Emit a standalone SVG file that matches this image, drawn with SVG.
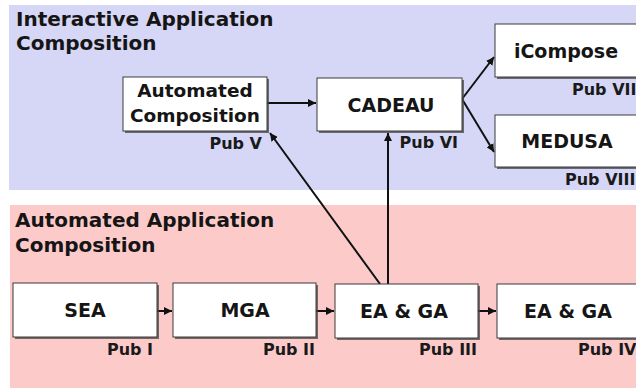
<svg xmlns="http://www.w3.org/2000/svg" width="636" height="390" viewBox="0 0 636 390">
<style>
.title{font-family:"DejaVu Sans",sans-serif;font-weight:bold;font-size:20px;fill:#151515}
.lbl{font-family:"DejaVu Sans",sans-serif;font-weight:bold;font-size:19px;fill:#151515;text-anchor:middle}
.pub{font-family:"DejaVu Sans",sans-serif;font-weight:bold;font-size:16px;fill:#1a1a1a}
.box{fill:#ffffff;stroke:#3a3a3a;stroke-width:1}
.sh{fill:#444;opacity:0.75}
.con{stroke:#111;stroke-width:2;fill:none}
</style>
<defs>
<marker id="ah" viewBox="0 0 10 10" refX="10" refY="5" markerWidth="4" markerHeight="4" orient="auto" markerUnits="strokeWidth">
<path d="M0,0 L10,5 L0,10 z" fill="#111"/>
</marker>
</defs>
<rect width="636" height="390" fill="#ffffff"/>
<rect x="9" y="5" width="627" height="185" fill="#d6d6f6"/>
<rect x="10" y="205" width="626" height="183" fill="#fdcaca"/>
<text class="title" x="16" y="26">Interactive Application</text>
<text class="title" x="16" y="50">Composition</text>
<text class="title" x="15" y="227">Automated Application</text>
<text class="title" x="15" y="252">Composition</text>

<g id="connectors">
<line class="con" x1="267" y1="103" x2="316" y2="103" marker-end="url(#ah)"/>
<line class="con" x1="462" y1="99" x2="494" y2="57" marker-end="url(#ah)"/>
<line class="con" x1="462" y1="99" x2="494" y2="152" marker-end="url(#ah)"/>
<line class="con" x1="157" y1="311" x2="172" y2="311" marker-end="url(#ah)"/>
<line class="con" x1="316" y1="311" x2="334" y2="311" marker-end="url(#ah)"/>
<line class="con" x1="478" y1="311" x2="496" y2="311" marker-end="url(#ah)"/>
<line class="con" x1="388" y1="284" x2="388" y2="133" marker-end="url(#ah)"/>
<line class="con" x1="380" y1="284" x2="270" y2="133" marker-end="url(#ah)"/>
</g>

<g id="automated-composition">
<rect class="sh" x="125" y="79" width="144" height="54"/>
<rect class="box" x="123" y="77" width="144" height="54"/>
<text class="lbl" x="195" y="97" style="font-size:18.5px">Automated</text>
<text class="lbl" x="195" y="122" style="font-size:18.5px">Composition</text>
<text class="pub" x="262" y="149" text-anchor="end">Pub V</text>
</g>
<g id="cadeau">
<rect class="sh" x="319" y="80" width="145" height="53"/>
<rect class="box" x="317" y="78" width="145" height="53"/>
<text class="lbl" x="391" y="112">CADEAU</text>
<text class="pub" x="458" y="148" text-anchor="end">Pub VI</text>
</g>
<g id="icompose">
<rect class="sh" x="497" y="26" width="150" height="53"/>
<rect class="box" x="495" y="24" width="150" height="53"/>
<text class="lbl" x="566" y="58">iCompose</text>
<text class="pub" x="572" y="95">Pub VII</text>
</g>
<g id="medusa">
<rect class="sh" x="497" y="117" width="150" height="52"/>
<rect class="box" x="495" y="115" width="150" height="52"/>
<text class="lbl" x="567" y="148">MEDUSA</text>
<text class="pub" x="565" y="185">Pub VIII</text>
</g>
<g id="sea">
<rect class="sh" x="15" y="285" width="144" height="54"/>
<rect class="box" x="13" y="283" width="144" height="54"/>
<text class="lbl" x="85" y="317">SEA</text>
<text class="pub" x="153" y="355" text-anchor="end">Pub I</text>
</g>
<g id="mga">
<rect class="sh" x="175" y="285" width="143" height="54"/>
<rect class="box" x="173" y="283" width="143" height="54"/>
<text class="lbl" x="245" y="317">MGA</text>
<text class="pub" x="315" y="355" text-anchor="end">Pub II</text>
</g>
<g id="ea-ga-1">
<rect class="sh" x="337" y="286" width="143" height="54"/>
<rect class="box" x="335" y="284" width="143" height="54"/>
<text class="lbl" x="404" y="318">EA &amp; GA</text>
<text class="pub" x="477" y="355" text-anchor="end">Pub III</text>
</g>
<g id="ea-ga-2">
<rect class="sh" x="499" y="286" width="150" height="54"/>
<rect class="box" x="497" y="284" width="150" height="54"/>
<text class="lbl" x="568" y="318">EA &amp; GA</text>
<text class="pub" x="578" y="355">Pub IV</text>
</g>
</svg>
